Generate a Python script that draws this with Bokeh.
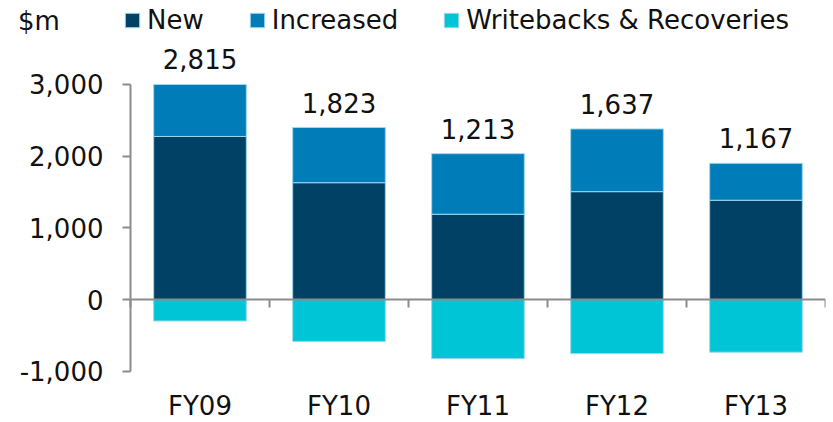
from bokeh.plotting import figure
from bokeh.models import (ColumnDataSource, Range1d, LinearAxis,
                          FixedTicker, NumeralTickFormatter, Legend, LegendItem)
from bokeh.core.properties import value
from bokeh.embed import file_html
from bokeh.resources import INLINE

# ---- data ----
cats = ["FY09", "FY10", "FY11", "FY12", "FY13"]
new = [2275, 1630, 1190, 1505, 1385]
increased = [725, 770, 845, 875, 515]
writebacks = [-300, -585, -825, -755, -735]
totals_text = ["2,815", "1,823", "1,213", "1,637", "1,167"]
yticks = [-1000, 0, 1000, 2000, 3000]
series_names = ["New", "Increased", "Writebacks & Recoveries"]
colors = ["#004165", "#007DB9", "#00C5D6"]
unit_label = "$m"

FONT = "DejaVu Sans"
FS = "26px"
GRAY = "#8c8c8c"
TXT = "#111111"

# layout: the frame spans the whole canvas width; the plotting area starts 130px in
SLOT_PX = 139.0
LEFT_PAD = 130.0 / SLOT_PX

centers = [i + 0.5 for i in range(len(cats))]
boundaries = list(range(len(cats) + 1))
src = ColumnDataSource(dict(
    x=centers,
    cats=cats,
    new=new,
    inc_bottom=new,
    inc_top=[a + b for a, b in zip(new, increased)],
    wb=writebacks,
    label=totals_text,
))

p = figure(width=833, height=422, x_range=Range1d(-LEFT_PAD, len(cats)), y_range=Range1d(-1716, 4172),
           output_backend="svg", toolbar_location=None,
           x_axis_location=None, y_axis_location=None,
           min_border_left=0, min_border_right=8, min_border_top=0, min_border_bottom=0)
p.outline_line_color = None
p.grid.visible = False
p.background_fill_color = "white"

bw = 2 / 3
edge = "#9fd6ea"
r_new = p.vbar(x="x", bottom=0, top="new", width=bw, source=src,
               fill_color=colors[0], line_color=edge, line_width=1)
r_inc = p.vbar(x="x", bottom="inc_bottom", top="inc_top", width=bw, source=src,
               fill_color=colors[1], line_color=edge, line_width=1)
r_wb = p.vbar(x="x", bottom=0, top="wb", width=bw, source=src,
              fill_color=colors[2], line_color=edge, line_width=1)

p.text(x="x", y="inc_top", text="label", source=src, text_align="center",
       text_baseline="bottom", y_offset=-15, text_font=value(FONT),
       text_font_size=value(FS), text_color=TXT)

# y axis, pinned at x = 0 (left edge of the first category slot)
yaxis = LinearAxis(fixed_location=0, ticker=FixedTicker(ticks=yticks),
                   formatter=NumeralTickFormatter(format="0,0"),
                   bounds=(min(yticks), max(yticks)))
yaxis.axis_line_color = GRAY
yaxis.axis_line_width = 2
yaxis.major_tick_line_color = GRAY
yaxis.major_tick_line_width = 2
yaxis.major_tick_out = 8
yaxis.major_tick_in = 0
yaxis.minor_tick_line_color = None
yaxis.major_label_standoff = 19
yaxis.major_label_text_font = FONT
yaxis.major_label_text_font_size = FS
yaxis.major_label_text_color = TXT
p.add_layout(yaxis, "left")

# zero line with slot boundary ticks (minor ticks only, no labels)
zaxis = LinearAxis(fixed_location=0, ticker=FixedTicker(ticks=[], minor_ticks=boundaries),
                   bounds=(0, len(cats)))
zaxis.axis_line_color = GRAY
zaxis.axis_line_width = 2
zaxis.major_tick_line_color = None
zaxis.minor_tick_line_color = GRAY
zaxis.minor_tick_line_width = 2
zaxis.minor_tick_out = 8
zaxis.minor_tick_in = 0
p.add_layout(zaxis, "below")

# category labels
caxis = LinearAxis(fixed_location=min(yticks), ticker=FixedTicker(ticks=centers),
                   major_label_overrides={c: n for c, n in zip(centers, cats)})
caxis.axis_line_color = None
caxis.major_tick_line_color = None
caxis.minor_tick_line_color = None
caxis.major_tick_out = 0
caxis.major_tick_in = 0
caxis.major_label_standoff = 20
caxis.major_label_text_font = FONT
caxis.major_label_text_font_size = FS
caxis.major_label_text_color = TXT
p.add_layout(caxis, "below")

legend = Legend(items=[LegendItem(label=n, renderers=[r]) for n, r in zip(series_names, [r_new, r_inc, r_wb])],
                orientation="horizontal", location=(123, 387), margin=0, padding=0, spacing=44,
                glyph_width=18, glyph_height=18, label_standoff=6,
                label_text_font=FONT, label_text_font_size=FS, label_text_color=TXT,
                border_line_alpha=0, background_fill_alpha=0)
p.add_layout(legend, "center")

# unit caption, shown as a glyph-less legend entry in the top-left corner
r_unit = p.vbar(x=[], top=[], width=0.1, fill_alpha=0, line_alpha=0)
unit_legend = Legend(items=[LegendItem(label=unit_label, renderers=[r_unit])],
                     location=(18, 386), margin=0, padding=0,
                     glyph_width=0, glyph_height=18, label_standoff=0,
                     label_text_font=FONT, label_text_font_size=FS, label_text_color=TXT,
                     border_line_alpha=0, background_fill_alpha=0)
p.add_layout(unit_legend, "center")

open("out.html", "w").write(file_html(p, INLINE))
